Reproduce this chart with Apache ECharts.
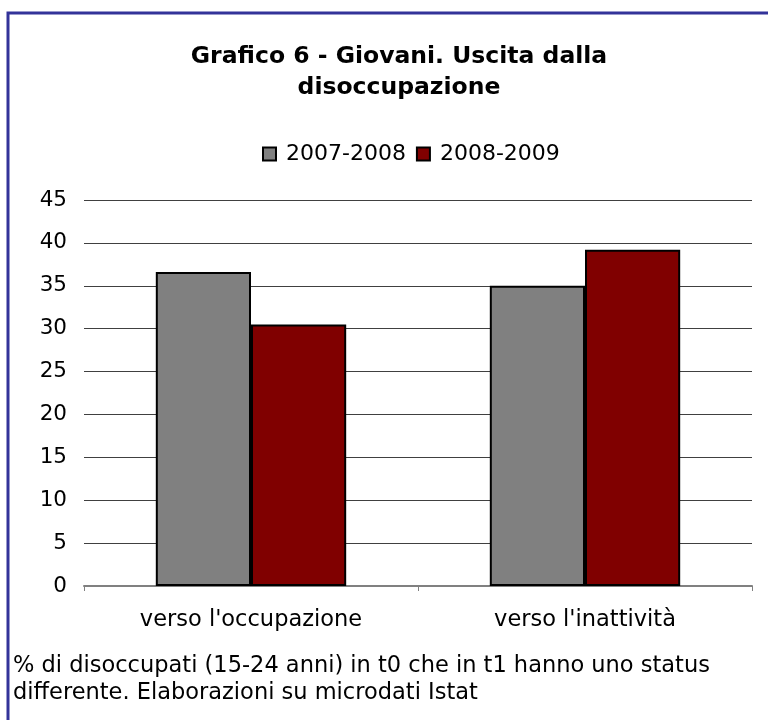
<!DOCTYPE html>
<html>
<head>
<meta charset="utf-8">
<script src="https://cdn.jsdelivr.net/npm/echarts@6/dist/echarts.min.js"></script>
<style>
  html, body { margin: 0; padding: 0; background: #fff; }
  #chart { width: 768px; height: 720px; }
</style>
</head>
<body>
<div id="chart"></div>
<script>
// categories and series
const categories = ["verso l'occupazione", "verso l'inattività"]
const seriesNames = ['2007-2008', '2008-2009']
const values2007 = [36.6, 35.0]
const values2008 = [30.5, 39.2]
const seriesColors = ['#808080', '#800000']

const font = 'DejaVu Sans'
const chart = echarts.init(document.getElementById('chart'))

chart.setOption({
  backgroundColor: '#fff',
  textStyle: { fontFamily: font },
  animation: false,
  title: {
    text: 'Grafico 6 - Giovani. Uscita dalla\ndisoccupazione',
    left: 394,
    textAlign: 'center',
    top: 36,
    textStyle: {
      fontFamily: font,
      fontSize: 23.5,
      fontWeight: 'bold',
      color: '#000',
      lineHeight: 31
    }
  },
  legend: {
    data: seriesNames,
    icon: 'rect',
    left: 257,
    top: 138,
    itemWidth: 13,
    itemHeight: 13,
    itemGap: 10,
    textStyle: { fontFamily: font, fontSize: 22, color: '#000', padding: [0, 0, 0, 5] }
  },
  grid: { left: 84, right: 16, top: 200, bottom: 134 },
  xAxis: {
    type: 'category',
    data: categories,
    axisLine: { lineStyle: { color: '#808080', width: 2 } },
    axisTick: { show: true, length: 5, lineStyle: { color: '#808080' } },
    axisLabel: { fontFamily: font, fontSize: 22.5, color: '#000', margin: 23 }
  },
  yAxis: {
    type: 'value',
    min: 0,
    max: 45,
    interval: 5,
    axisLine: { show: false },
    axisTick: { show: false },
    splitLine: { lineStyle: { color: '#404040', width: 1 } },
    axisLabel: { fontFamily: font, fontSize: 21.5, color: '#000', margin: 17 }
  },
  series: [
    {
      name: seriesNames[0],
      type: 'bar',
      data: values2007,
      barGap: '0%',
      barCategoryGap: '43%',
      itemStyle: { color: seriesColors[0], borderColor: '#000', borderWidth: 2 }
    },
    {
      name: seriesNames[1],
      type: 'bar',
      data: values2008,
      itemStyle: { color: seriesColors[1], borderColor: '#000', borderWidth: 2 }
    }
  ],
  graphic: [
    {
      type: 'rect',
      shape: { x: 8, y: 13, width: 800, height: 800 },
      style: { fill: 'none', stroke: '#333399', lineWidth: 3 },
      silent: true
    },
    {
      type: 'text',
      left: 13,
      top: 653,
      style: {
        text: '% di disoccupati (15-24 anni) in t0 che in t1 hanno uno status\ndifferente. Elaborazioni su microdati Istat',
        font: '22.5px "DejaVu Sans"',
        fill: '#000',
        lineHeight: 27
      }
    }
  ]
})
</script>
</body>
</html>
